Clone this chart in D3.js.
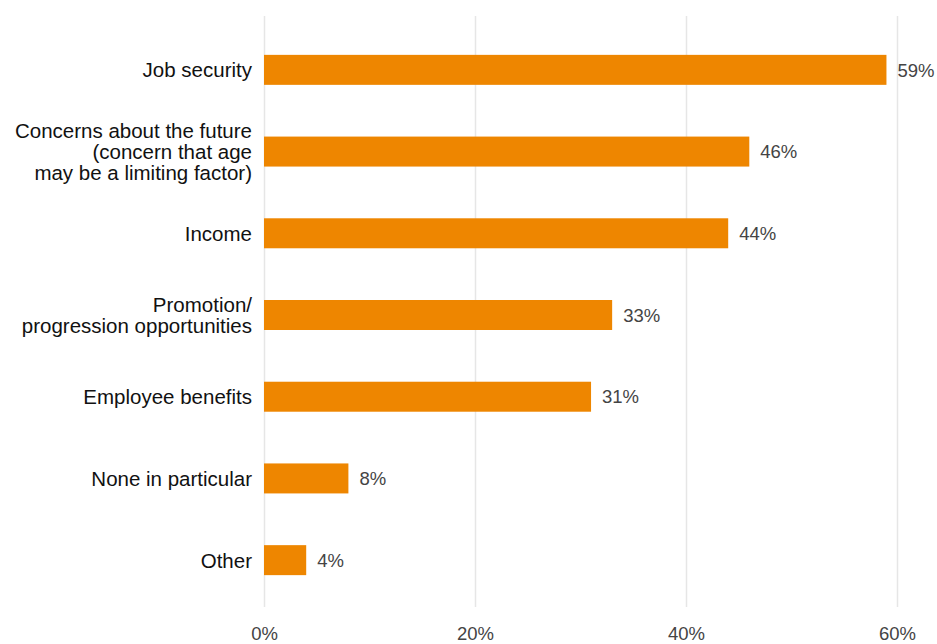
<!DOCTYPE html>
<html>
<head>
<meta charset="utf-8">
<script src="https://cdn.jsdelivr.net/npm/d3@7"></script>
<style>
  body { margin: 0; background: #fff; }
  text { font-family: "Liberation Sans", Arial, Helvetica, sans-serif; }
</style>
</head>
<body>
<div id="wrapper"></div>
<script>
// data
const categories = [
  ["Job security"],
  ["Concerns about the future", "(concern that age", "may be a limiting factor)"],
  ["Income"],
  ["Promotion/", "progression opportunities"],
  ["Employee benefits"],
  ["None in particular"],
  ["Other"]
]
const values = [59, 46, 44, 33, 31, 8, 4]
const xTicks = [0, 20, 40, 60]

const data = categories.map((lines, i) => ({ key: i, lines, value: values[i] }))

// dimensions
const dimensions = { width: 937, height: 644 }
const gridTop = 16
const gridBottom = 607

const svg = d3.select("#wrapper")
  .append("svg")
    .attr("width", dimensions.width)
    .attr("height", dimensions.height)

// scales
const xScale = d3.scaleLinear()
    .domain([0, 60])
    .range([264, 897])

const yScale = d3.scaleBand()
    .domain(data.map(d => d.key))
    .range([14, 616])
    .paddingInner(0.633)
    .paddingOuter(0.5)

// gridlines + bottom axis
const xAxis = d3.axisBottom(xScale)
    .tickValues(xTicks)
    .tickFormat(d => d + "%")
    .tickSize(-(gridBottom - gridTop))
    .tickPadding(20)

const xAxisGroup = svg.append("g")
    .attr("transform", `translate(0,${gridBottom})`)
    .call(xAxis)

xAxisGroup.select(".domain").remove()
xAxisGroup.selectAll(".tick line")
    .attr("stroke", "#e6e6e6")
    .attr("stroke-width", 1.5)
xAxisGroup.selectAll(".tick text")
    .attr("fill", "#444")
    .style("font-size", "18.5px")

// bars
svg.append("g")
  .selectAll("rect")
  .data(data)
  .join("rect")
    .attr("x", xScale(0))
    .attr("y", d => yScale(d.key))
    .attr("width", d => xScale(d.value) - xScale(0))
    .attr("height", yScale.bandwidth())
    .attr("fill", "#ee8600")

// value labels
svg.append("g")
  .selectAll("text")
  .data(data)
  .join("text")
    .attr("x", d => xScale(d.value) + 11)
    .attr("y", d => yScale(d.key) + yScale.bandwidth() / 2)
    .attr("dy", "0.36em")
    .attr("fill", "#444")
    .style("font-size", "18.5px")
    .text(d => d.value + "%")

// category labels
const lineHeight = 21
const labels = svg.append("g")
  .selectAll("text")
  .data(data)
  .join("text")
    .attr("text-anchor", "end")
    .attr("fill", "#111")
    .style("font-size", "20.5px")
    .attr("transform", d => `translate(252,${yScale(d.key) + yScale.bandwidth() / 2})`)

labels.selectAll("tspan")
  .data(d => d.lines.map((l, i) => ({ l, i, n: d.lines.length })))
  .join("tspan")
    .attr("x", 0)
    .attr("y", d => (d.i - (d.n - 1) / 2) * lineHeight)
    .attr("dy", "0.36em")
    .text(d => d.l)
</script>
</body>
</html>
